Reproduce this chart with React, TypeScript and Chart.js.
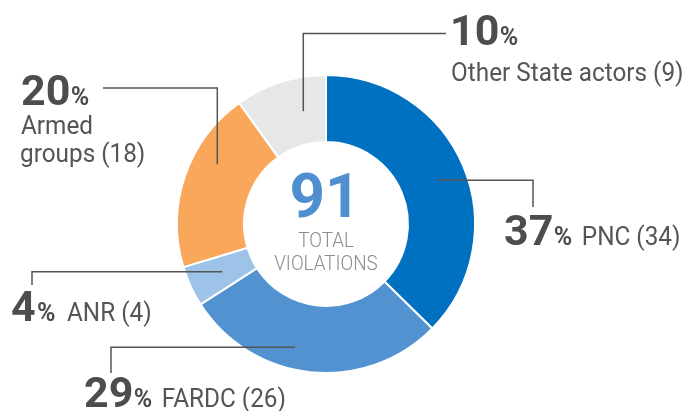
import React, { useEffect, useRef } from "react";
import { Chart, registerables } from "chart.js";

Chart.register(...registerables);

// ---- data ----
const categories = ["PNC", "FARDC", "ANR", "Armed groups", "Other State actors"];
const violations = [34, 26, 4, 18, 9];
const labelLines = [["PNC (34)"], ["FARDC (26)"], ["ANR (4)"], ["Armed", "groups (18)"], ["Other State actors (9)"]];
const centerValue = "91";
const centerCaption = ["TOTAL", "VIOLATIONS"];

// ---- styles ----
const sliceColors = ["#0071c0", "#5292d0", "#9dc3e8", "#f9a75b", "#e6e7e7"];
const TEXT_DARK = "#4d4d4d";
const TEXT_LABEL = "#555555";
const LINE_COLOR = "#555555";
const CENTER_BLUE = "#4f8fcf";
const CENTER_GRAY = "#8c8c8c";

// leader / label layout (per slice, in slice order)
type Layout = {
  type: "hv" | "vh";
  frac: number;
  r: number;
  elbow: number;
  end: number;
  numX: number;
  numY: number;
  below?: { x: number; y: number; lh: number };
};
const layouts: Layout[] = [
  { type: "hv", frac: 0.51, r: 120, elbow: 533, end: 207, numX: 505, numY: 245 },
  { type: "hv", frac: 0.58, r: 127, elbow: 111, end: 373, numX: 85, numY: 407 },
  { type: "hv", frac: 0.5, r: 114, elbow: 32, end: 285, numX: 12, numY: 321 },
  { type: "vh", frac: 0.64, r: 124, elbow: 88, end: 103, numX: 22, numY: 105, below: { x: 21, y: 134, lh: 28 } },
  { type: "vh", frac: 0.68, r: 115, elbow: 33.5, end: 446, numX: 453, numY: 45, below: { x: 452, y: 81, lh: 28 } },
];

const NUM_FONT = "bold 43px Roboto";
const PCT_FONT = "bold 25px Roboto";
const LABEL_FONT = "26px Roboto";
const LABEL_SX = 0.935;
const CAPTION_FONT = "300 20px Roboto";
const CAPTION_SX = 0.94;

function drawInk(ctx: CanvasRenderingContext2D, text: string, inkLeft: number, y: number, sx = 1) {
  const m = ctx.measureText(text);
  const origin = inkLeft + m.actualBoundingBoxLeft * sx;
  ctx.save();
  ctx.translate(origin, y);
  ctx.scale(sx, 1);
  ctx.fillText(text, 0, 0);
  ctx.restore();
  return origin + m.actualBoundingBoxRight * sx; // ink right
}

function drawCentered(ctx: CanvasRenderingContext2D, text: string, cx: number, y: number, sx = 1) {
  ctx.save();
  ctx.textAlign = "center";
  ctx.translate(cx, y);
  ctx.scale(sx, 1);
  ctx.fillText(text, 0, 0);
  ctx.restore();
}

const labelsPlugin = {
  id: "calloutLabels",
  afterDraw(chart: any) {
    const ctx: CanvasRenderingContext2D = chart.ctx;
    const meta = chart.getDatasetMeta(0);
    const values: number[] = chart.data.datasets[0].data;
    const total = values.reduce((a, b) => a + b, 0);
    ctx.save();
    ctx.textBaseline = "alphabetic";
    ctx.textAlign = "left";
    meta.data.forEach((arc: any, i: number) => {
      const p = arc.getProps(["x", "y", "startAngle", "endAngle"], true);
      const L = layouts[i];
      const ang = p.startAngle + (p.endAngle - p.startAngle) * L.frac;
      const ax = p.x + L.r * Math.cos(ang);
      const ay = p.y + L.r * Math.sin(ang);
      ctx.strokeStyle = LINE_COLOR;
      ctx.lineWidth = 1.5;
      ctx.beginPath();
      ctx.moveTo(ax, ay);
      if (L.type === "hv") {
        ctx.lineTo(L.elbow, ay);
        ctx.lineTo(L.elbow, L.end);
      } else {
        ctx.lineTo(ax, L.elbow);
        ctx.lineTo(L.end, L.elbow);
      }
      ctx.stroke();

      const pct = Math.round((values[i] / total) * 100);
      ctx.fillStyle = TEXT_DARK;
      ctx.font = NUM_FONT;
      const r1 = drawInk(ctx, String(pct), L.numX, L.numY);
      ctx.font = PCT_FONT;
      const r2 = drawInk(ctx, "%", r1 + 3, L.numY);
      ctx.fillStyle = TEXT_LABEL;
      ctx.font = LABEL_FONT;
      const lines = labelLines[i];
      if (L.below) {
        lines.forEach((t, k) => drawInk(ctx, t, L.below!.x, L.below!.y + k * L.below!.lh, LABEL_SX));
      } else {
        drawInk(ctx, lines[0], r2 + 12, L.numY, LABEL_SX);
      }
    });

    const first = meta.data[0];
    if (first) {
      const cx = first.x;
      const cy = first.y;
      ctx.fillStyle = CENTER_BLUE;
      ctx.font = "bold 62px Roboto";
      drawCentered(ctx, centerValue, cx - 1, cy - 7);
      ctx.fillStyle = CENTER_GRAY;
      ctx.font = CAPTION_FONT;
      drawCentered(ctx, centerCaption[0], cx, cy + 23, CAPTION_SX);
      drawCentered(ctx, centerCaption[1], cx, cy + 46, CAPTION_SX);
    }
    ctx.restore();
  },
};

export default function App() {
  const ref = useRef<HTMLCanvasElement | null>(null);
  useEffect(() => {
    if (!ref.current) return;
    const chart = new Chart(ref.current, {
      type: "doughnut",
      data: {
        labels: categories,
        datasets: [
          {
            data: violations,
            backgroundColor: sliceColors,
            borderColor: "#ffffff",
            borderWidth: 2,
            hoverOffset: 0,
          },
        ],
      },
      options: {
        responsive: true,
        maintainAspectRatio: false,
        animation: false,
        cutout: "55%",
        layout: { padding: { top: 74, bottom: 37, left: 0, right: 36 } },
        plugins: { legend: { display: false }, tooltip: { enabled: false } },
        events: [],
      },
      plugins: [labelsPlugin],
    });
    const fontsApi: any = (document as any).fonts;
    if (fontsApi && fontsApi.load) {
      Promise.all([
        fontsApi.load("bold 43px Roboto"),
        fontsApi.load("26px Roboto"),
        fontsApi.load("300 20px Roboto"),
      ])
        .then(() => chart.draw())
        .catch(() => {});
    }
    return () => chart.destroy();
  }, []);
  return (
    <div style={{ position: "absolute", left: 0, top: 0, width: 688, height: 411, background: "#ffffff" }}>
      <canvas ref={ref} />
    </div>
  );
}
